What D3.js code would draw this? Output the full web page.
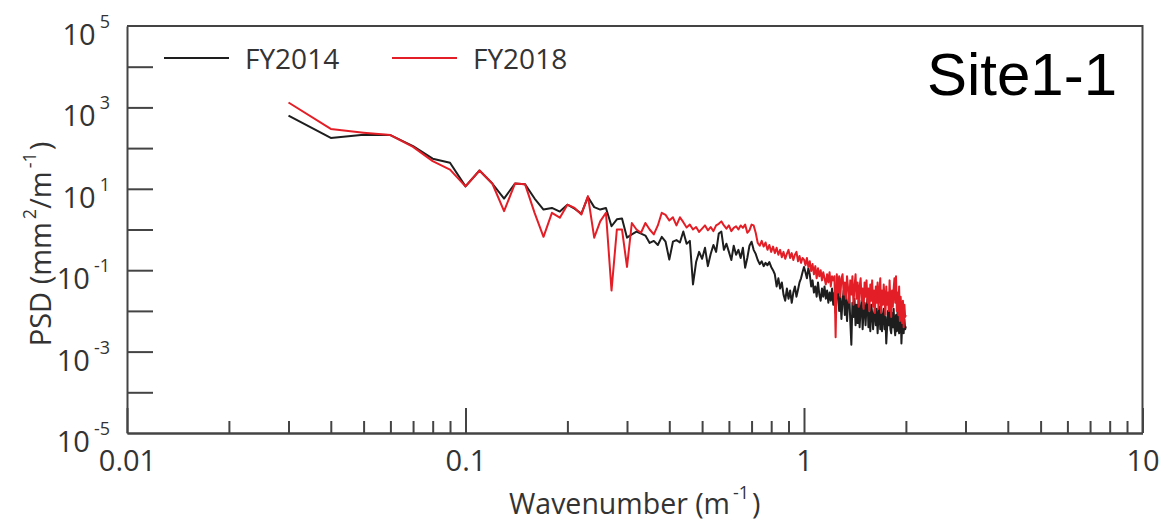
<!DOCTYPE html>
<html>
<head>
<meta charset="utf-8">
<script src="https://cdn.jsdelivr.net/npm/d3@7"></script>
<style>
  body { margin: 0; background: #fff; }
  svg text { font-family: "Open Sans", sans-serif; fill: #333; }
</style>
</head>
<body>
<div id="chart"></div>
<script>
// wavenumber grid: 0.03 .. 2.00 m^-1 in 0.01 steps
var wavenumbers = d3.range(3, 201).map(function(i){ return i / 100; });

// log10 of PSD (mm^2/m^-1), one value per wavenumber
var psdLog2014 = [
  2.80, 2.25, 2.33, 2.32, 2.05, 1.74, 1.64, 1.06, 1.45, 1.13,
  0.76, 1.13, 1.11, 0.76, 0.49, 0.53, 0.44, 0.61, 0.51, 0.39,
  0.80, 0.55, 0.49, 0.53, 0.08, 0.25, 0.27, -0.20, -0.12, -0.05,
  -0.10, -0.15, -0.33, -0.28, -0.38, -0.18, -0.30, -0.74, -0.30, -0.26,
  -0.32, -0.05, -0.35, -0.28, -1.35, -0.80, -0.55, -0.72, -0.45, -0.90,
  -0.60, -0.38, -0.55, -0.10, -0.05, -0.50, -0.35, -0.55, -0.75, -0.40,
  -0.62, -0.50, -0.70, -0.45, -0.94, -0.70, -0.40, -0.30, -0.50, -0.60,
  -0.75, -0.85, -0.78, -0.90, -0.82, -0.88, -0.80, -0.92, -1.00, -1.10,
  -1.40, -1.20, -1.45, -1.30, -1.60, -1.75, -1.45, -1.70, -1.50, -1.80,
  -1.55, -1.40, -1.65, -1.48, -1.30, -1.20, -1.05, -0.92, -1.05, -1.20,
  -0.95, -1.10, -1.40, -1.25, -1.55, -1.40, -1.65, -1.30, -1.60, -1.75,
  -1.45, -1.65, -1.40, -1.70, -1.50, -1.80, -1.55, -1.75, -1.45, -1.85,
  -1.55, -2.05, -1.60, -1.40, -2.00, -1.65, -2.20, -1.75, -1.50, -2.10,
  -1.65, -2.25, -1.80, -1.55, -2.25, -2.83, -1.80, -2.15, -1.70, -2.35,
  -1.85, -2.30, -1.75, -2.40, -1.95, -1.75, -2.45, -2.00, -1.80, -2.35,
  -1.90, -1.70, -2.40, -2.05, -2.50, -1.85, -2.05, -2.45, -2.10, -1.90,
  -2.35, -1.95, -2.55, -2.10, -1.90, -2.45, -2.05, -2.50, -2.10, -1.95,
  -2.45, -2.15, -2.80, -2.40, -2.00, -2.35, -1.95, -2.45, -2.55, -2.05,
  -2.40, -1.95, -2.40, -2.60, -2.10, -2.50, -2.00, -2.35, -2.55, -2.15,
  -1.95, -2.80, -2.35, -2.05, -2.55, -2.20, -2.45, -2.38
];

var psdLog2018 = [
  3.12, 2.47, 2.38, 2.32, 2.03, 1.68, 1.47, 1.06, 1.45, 1.13,
  0.45, 1.13, 1.11, 0.41, -0.18, 0.41, 0.29, 0.61, 0.53, 0.37,
  0.82, -0.20, 0.20, 0.41, -1.50, 0.00, 0.00, -0.92, 0.16, 0.00,
  -0.08, 0.16, 0.00, -0.12, 0.10, 0.41, 0.36, 0.22, 0.30, 0.10,
  0.30, 0.18, 0.05, 0.12, 0.00, 0.06, -0.06, 0.02, 0.10, -0.02,
  0.06, -0.04, 0.10, 0.14, 0.20, 0.10, 0.02, 0.10, -0.04, 0.04,
  0.08, 0.00, 0.10, 0.04, 0.12, -0.08, -0.02, 0.12, 0.10, -0.08,
  -0.33, -0.40, -0.28, -0.42, -0.32, -0.50, -0.38, -0.55, -0.42, -0.58,
  -0.45, -0.62, -0.50, -0.68, -0.55, -0.72, -0.60, -0.50, -0.70, -0.58,
  -0.75, -0.62, -0.55, -0.78, -0.65, -0.82, -0.70, -0.74, -0.88, -0.70,
  -0.92, -0.78, -1.02, -0.85, -1.10, -0.90, -1.20, -0.95, -1.15, -1.00,
  -1.25, -1.05, -1.20, -1.35, -1.10, -1.30, -1.05, -1.40, -1.15, -1.25,
  -1.15, -2.65, -1.10, -1.55, -1.15, -1.65, -1.20, -1.10, -1.60, -1.30,
  -1.70, -1.15, -1.45, -1.80, -1.25, -1.60, -1.15, -1.85, -1.40, -1.10,
  -1.70, -1.30, -1.90, -1.40, -1.20, -1.75, -1.45, -1.95, -1.30, -1.65,
  -1.25, -1.80, -1.45, -2.00, -1.35, -1.75, -1.25, -1.90, -1.50, -2.05,
  -1.40, -1.80, -1.30, -1.95, -1.55, -1.20, -2.05, -1.50, -1.85, -1.35,
  -1.70, -2.10, -1.40, -1.85, -1.55, -2.00, -1.25, -1.80, -2.15, -1.50,
  -1.90, -1.45, -1.20, -1.80, -1.15, -2.00, -1.55, -2.10, -1.40, -2.25,
  -1.65, -2.05, -2.30, -1.75, -2.40, -1.85, -2.15, -2.10
];

var seriesNames = ["FY2014", "FY2018"];
var seriesColors = ["#1e1e1e", "#e41e26"];
var yLabelExps = [5, 3, 1, -1, -3, -5];
var xLabelTicks = [0.01, 0.1, 1, 10];
var xLabelText = ["0.01", "0.1", "1", "10"];

(function(){
  'use strict';
  var W = 1163, H = 526;
  var mLeft = 127, mRight = 1142.5, mTop = 26, mBottom = 433;
  var axisColor = "#444";

  var svg = d3.select("#chart").append("svg")
      .attr("width", W).attr("height", H);

  var x = d3.scaleLog().domain([0.01, 10]).range([mLeft, mRight]);
  var y = d3.scaleLog().domain([1e-5, 1e5]).range([mBottom, mTop]);

  // frame: top and right lines
  svg.append("path")
      .attr("d", "M" + mLeft + "," + mTop + "H" + mRight + "V" + mBottom)
      .attr("fill", "none").attr("stroke", axisColor).attr("stroke-width", 2);

  // left axis, one inward tick per decade
  var yDecades = d3.range(-5, 6).map(function(e){ return Math.pow(10, e); });
  var gy = svg.append("g").attr("transform", "translate(" + mLeft + ",0)")
      .call(d3.axisLeft(y).tickValues(yDecades).tickSizeInner(-26).tickSizeOuter(0).tickFormat(""));
  gy.selectAll("path, line").attr("stroke", axisColor).attr("stroke-width", 2);
  gy.selectAll(".tick").filter(function(d){ return d >= 1e5 || d <= 1e-5; }).remove();

  // bottom axis: minor ticks, then decade ticks with labels
  var minor = [];
  [0.01, 0.1, 1].forEach(function(d){
    for (var m = 2; m <= 9; m++) minor.push(d * m);
  });
  var gxm = svg.append("g").attr("transform", "translate(0," + mBottom + ")")
      .call(d3.axisBottom(x).tickValues(minor).tickSizeInner(-12).tickSizeOuter(0).tickFormat(""));
  gxm.selectAll("path, line").attr("stroke", axisColor).attr("stroke-width", 2);

  var gx = svg.append("g").attr("transform", "translate(0," + mBottom + ")")
      .call(d3.axisBottom(x).tickValues(xLabelTicks).tickSizeInner(-25).tickSizeOuter(0).tickPadding(17)
        .tickFormat(function(d, i){ return xLabelText[i]; }));
  gx.selectAll("path, line").attr("stroke", axisColor).attr("stroke-width", 2);
  gx.selectAll("text").attr("font-size", 29).attr("fill", "#333")
      .attr("font-family", "'Open Sans', sans-serif");

  // y labels as 10 with superscript exponent
  yLabelExps.forEach(function(e){
    var t = svg.append("text")
        .attr("x", 110).attr("y", y(Math.pow(10, e)) + 19)
        .attr("text-anchor", "end").attr("font-size", 29);
    t.append("tspan").text("10");
    t.append("tspan").attr("dy", -17).attr("dx", 4).attr("font-size", 18).text(e);
  });

  // data lines
  var line = d3.line()
      .x(function(d){ return x(d[0]); })
      .y(function(d){ return y(Math.pow(10, d[1])); });

  [psdLog2014, psdLog2018].forEach(function(vals, i){
    var pts = wavenumbers.map(function(k, j){ return [k, vals[j]]; });
    svg.append("path").datum(pts)
        .attr("d", line)
        .attr("fill", "none")
        .attr("stroke", seriesColors[i])
        .attr("stroke-width", 2)
        .attr("stroke-linejoin", "round");
  });

  // legend
  var legX = [164, 392];
  seriesNames.forEach(function(n, i){
    svg.append("line")
        .attr("x1", legX[i]).attr("x2", legX[i] + 65)
        .attr("y1", 58).attr("y2", 58)
        .attr("stroke", seriesColors[i]).attr("stroke-width", 2);
    svg.append("text")
        .attr("x", legX[i] + 81).attr("y", 69)
        .attr("font-size", 28).text(n);
  });

  // site label
  svg.append("text")
      .attr("x", 1117).attr("y", 95)
      .attr("text-anchor", "end")
      .attr("font-size", 60)
      .style("font-family", "'Liberation Sans', Arial, sans-serif")
      .style("fill", "#000")
      .text("Site1-1");

  // axis titles
  var xt = svg.append("text")
      .attr("x", (mLeft + mRight) / 2).attr("y", 514)
      .attr("text-anchor", "middle").attr("font-size", 28.5);
  xt.append("tspan").text("Wavenumber (m");
  xt.append("tspan").attr("dy", -15).attr("dx", 3).attr("font-size", 18).text("-1");
  xt.append("tspan").attr("dy", 15).attr("dx", 3).text(")");

  var yt = svg.append("text")
      .attr("transform", "translate(51,244) rotate(-90)")
      .attr("text-anchor", "middle").attr("font-size", 29);
  yt.append("tspan").text("PSD (mm");
  yt.append("tspan").attr("dy", -15).attr("dx", 3).attr("font-size", 18).text("2");
  yt.append("tspan").attr("dy", 15).text("/m");
  yt.append("tspan").attr("dy", -15).attr("dx", 3).attr("font-size", 18).text("-1");
  yt.append("tspan").attr("dy", 15).attr("dx", 2).text(")");
}());
</script>
</body>
</html>
